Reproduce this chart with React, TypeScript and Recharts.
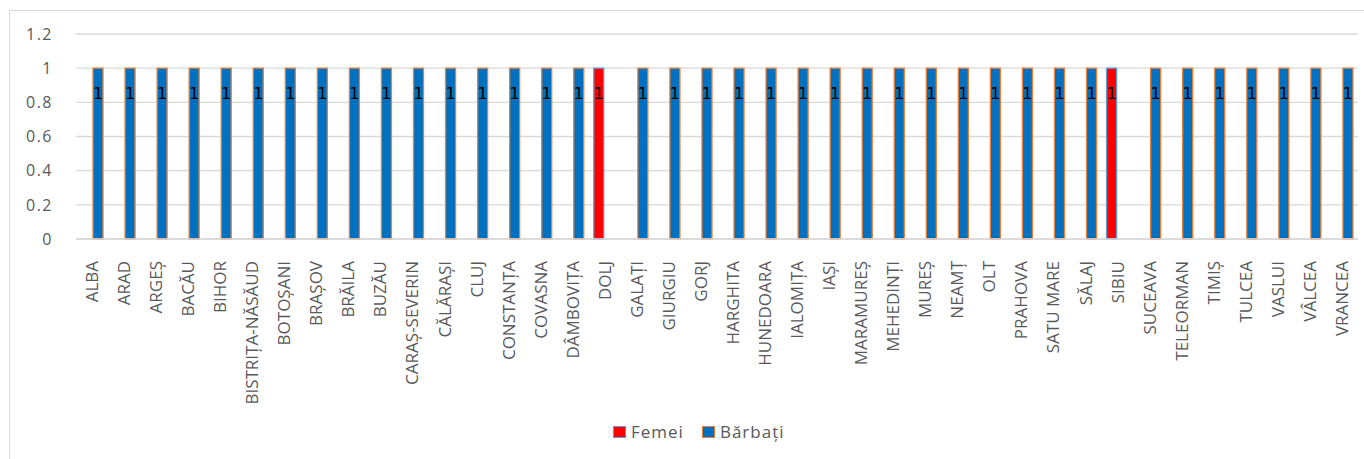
import React from 'react';
import { BarChart, Bar, XAxis, YAxis, CartesianGrid, LabelList } from 'recharts';

const counties = [
  'ALBA', 'ARAD', 'ARGEȘ', 'BACĂU', 'BIHOR', 'BISTRIȚA-NĂSĂUD', 'BOTOȘANI', 'BRAȘOV', 'BRĂILA', 'BUZĂU',
  'CARAȘ-SEVERIN', 'CĂLĂRAȘI', 'CLUJ', 'CONSTANȚA', 'COVASNA', 'DÂMBOVIȚA', 'DOLJ', 'GALAȚI', 'GIURGIU', 'GORJ',
  'HARGHITA', 'HUNEDOARA', 'IALOMIȚA', 'IAȘI', 'MARAMUREȘ', 'MEHEDINȚI', 'MUREȘ', 'NEAMȚ', 'OLT', 'PRAHOVA',
  'SATU MARE', 'SĂLAJ', 'SIBIU', 'SUCEAVA', 'TELEORMAN', 'TIMIȘ', 'TULCEA', 'VASLUI', 'VÂLCEA', 'VRANCEA',
];

const femei = [
  null, null, null, null, null, null, null, null, null, null,
  null, null, null, null, null, null, 1, null, null, null,
  null, null, null, null, null, null, null, null, null, null,
  null, null, 1, null, null, null, null, null, null, null,
];

const barbati = [
  1, 1, 1, 1, 1, 1, 1, 1, 1, 1,
  1, 1, 1, 1, 1, 1, null, 1, 1, 1,
  1, 1, 1, 1, 1, 1, 1, 1, 1, 1,
  1, 1, null, 1, 1, 1, 1, 1, 1, 1,
];

const yTicks = [0, 0.2, 0.4, 0.6, 0.8, 1, 1.2];

const data = counties.map((name, i) => ({ name, femei: femei[i], barbati: barbati[i] }));

const GRID = '#D9D9D9';
const TEXT = '#595959';

const CountyTick = (props: any) => {
  const { x, y, payload } = props;
  return (
    <text
      transform={`translate(${x},${y + 14}) rotate(-90)`}
      textAnchor="end"
      dy="0.35em"
      fill={TEXT}
      fontSize={17}
      fontFamily="'Open Sans', sans-serif"
    >
      {payload.value}
    </text>
  );
};

const ValueLabel = (props: any) => {
  const { x, y, width, value } = props;
  if (value === null || value === undefined) return null;
  return (
    <text
      x={x + width / 2}
      y={y + 25}
      textAnchor="middle"
      dominantBaseline="central"
      fill="#000000"
      fontSize={16}
      fontFamily="'DejaVu Sans', sans-serif"
    >
      {value}
    </text>
  );
};

const LegendItem = ({ fill, stroke, label }: { fill: string; stroke: string; label: string }) => (
  <div style={{ display: 'flex', alignItems: 'center', marginRight: 18 }}>
    <div style={{ width: 11, height: 10, background: fill, border: `1.5px solid ${stroke}`, marginRight: 5 }} />
    <span style={{ fontSize: 17, color: TEXT, letterSpacing: 1, fontFamily: "'Open Sans', sans-serif" }}>{label}</span>
  </div>
);

export default function App() {
  return (
    <div style={{ position: 'absolute', left: 0, top: 0, width: 1364, height: 459, overflow: 'hidden', background: '#fff' }}>
      <div
        style={{
          position: 'absolute',
          left: 9,
          top: 10,
          width: 1400,
          height: 500,
          border: `1px solid ${GRID}`,
          boxSizing: 'border-box',
        }}
      />
      <BarChart
        width={1364}
        height={459}
        data={data}
        margin={{ top: 34, right: 6, left: 0, bottom: 0 }}
        barSize={10}
        barGap={2}
      >
        <CartesianGrid vertical={false} stroke={GRID} strokeWidth={1.3} />
        <XAxis
          dataKey="name"
          interval={0}
          height={220}
          tick={<CountyTick />}
          tickLine={false}
          axisLine={{ stroke: GRID, strokeWidth: 1.3 }}
        />
        <YAxis
          width={76}
          domain={[0, 1.2]}
          ticks={yTicks}
          axisLine={false}
          tickLine={false}
          tickMargin={17}
          tick={{ fill: TEXT, fontSize: 16, letterSpacing: 1.5, fontFamily: "'Open Sans', sans-serif" }}
        />
        <Bar dataKey="femei" name="Femei" fill="#FF0000" stroke="#5B9BD5" strokeWidth={1.3} isAnimationActive={false}>
          <LabelList dataKey="femei" content={<ValueLabel />} />
        </Bar>
        <Bar dataKey="barbati" name="Bărbați" fill="#0070C0" stroke="#ED7D31" strokeWidth={1.3} isAnimationActive={false}>
          <LabelList dataKey="barbati" content={<ValueLabel />} />
        </Bar>
      </BarChart>
      <div style={{ position: 'absolute', left: 613, top: 420, display: 'flex', alignItems: 'center' }}>
        <LegendItem fill="#FF0000" stroke="#5B9BD5" label="Femei" />
        <LegendItem fill="#0070C0" stroke="#ED7D31" label="Bărbați" />
      </div>
    </div>
  );
}
